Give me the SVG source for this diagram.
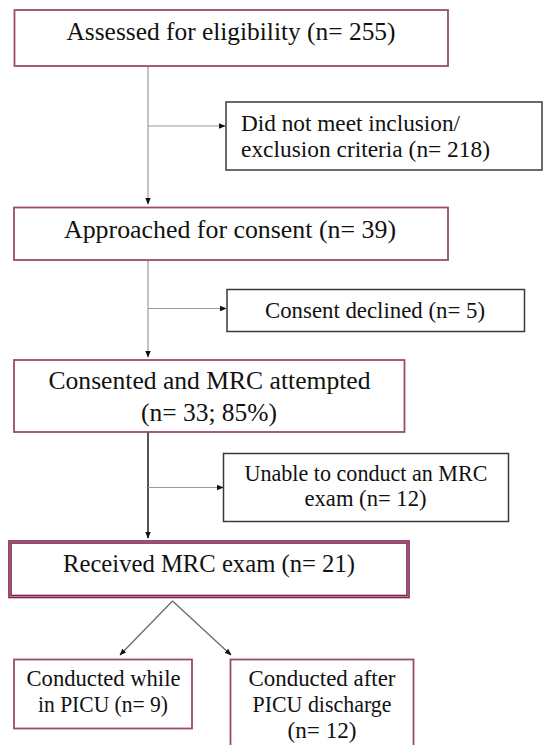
<svg xmlns="http://www.w3.org/2000/svg" width="543" height="745" viewBox="0 0 543 745">
  <style>
    .main { fill: #ffffff; stroke: #9c4a6f; stroke-width: 1.8; }
    .side { fill: #ffffff; stroke: #3a3a3a; stroke-width: 1.5; }
    .t { font-family: "Liberation Serif", "Times New Roman", serif; font-size: 25px; fill: #111111; }
    .s { font-family: "Liberation Serif", "Times New Roman", serif; font-size: 23.5px; fill: #111111; }
    .c { text-anchor: middle; }
    .ln { fill: none; stroke: #9a9a9a; stroke-width: 1.2; }
    .dk { fill: none; stroke: #2a2a2a; stroke-width: 1.6; }
    .dg { fill: none; stroke: #6a6a6a; stroke-width: 1.3; }
  </style>
  <defs>
    <marker id="ah" markerUnits="userSpaceOnUse" markerWidth="7" markerHeight="7" viewBox="0 0 10 10" refX="9" refY="5" orient="auto">
      <path d="M0,1 L10,5 L0,9 z" fill="#111111"/>
    </marker>
  </defs>
  <rect width="543" height="745" fill="#ffffff"/>

  <g id="connectors">
    <line class="ln" x1="148" y1="66" x2="148" y2="204" marker-end="url(#ah)"/>
    <line class="ln" x1="148" y1="126" x2="225" y2="126" marker-end="url(#ah)"/>
    <line class="ln" x1="148" y1="260" x2="148" y2="357" marker-end="url(#ah)"/>
    <line class="ln" x1="148" y1="308.5" x2="226" y2="308.5" marker-end="url(#ah)"/>
    <line class="dk" x1="148" y1="432" x2="148" y2="538" marker-end="url(#ah)"/>
    <line class="ln" x1="148" y1="487.5" x2="223" y2="487.5" marker-end="url(#ah)"/>
    <line class="dg" x1="172.5" y1="601" x2="120" y2="655" marker-end="url(#ah)"/>
    <line class="dg" x1="172.5" y1="601" x2="231" y2="655" marker-end="url(#ah)"/>
  </g>

  <g id="n1">
    <rect class="main" x="14.5" y="10" width="433.5" height="56"/>
    <text class="t c" x="231" y="40" textLength="329" lengthAdjust="spacingAndGlyphs">Assessed for eligibility (n= 255)</text>
  </g>
  <g id="n2">
    <rect class="side" x="226" y="102" width="316" height="68"/>
    <text class="s" x="241" y="131" textLength="219" lengthAdjust="spacingAndGlyphs">Did not meet inclusion/</text>
    <text class="s" x="241" y="156.5" textLength="249" lengthAdjust="spacingAndGlyphs">exclusion criteria (n= 218)</text>
  </g>
  <g id="n3">
    <rect class="main" x="14" y="207.5" width="434" height="52.5"/>
    <text class="t c" x="230" y="237.5" textLength="332" lengthAdjust="spacingAndGlyphs">Approached for consent (n= 39)</text>
  </g>
  <g id="n4">
    <rect class="side" x="227" y="289.5" width="297.5" height="42"/>
    <text class="s c" x="375" y="317.5" textLength="220" lengthAdjust="spacingAndGlyphs">Consent declined (n= 5)</text>
  </g>
  <g id="n5">
    <rect class="main" x="14" y="360" width="390.5" height="72"/>
    <text class="t c" x="209.5" y="388.5" textLength="322" lengthAdjust="spacingAndGlyphs">Consented and MRC attempted</text>
    <text class="t c" x="209" y="420.5" textLength="136" lengthAdjust="spacingAndGlyphs">(n= 33; 85%)</text>
  </g>
  <g id="n6">
    <rect class="side" x="223.5" y="453.5" width="285" height="68"/>
    <text class="s c" x="366" y="481" textLength="243" lengthAdjust="spacingAndGlyphs">Unable to conduct an MRC</text>
    <text class="s c" x="365.5" y="506" textLength="122" lengthAdjust="spacingAndGlyphs">exam (n= 12)</text>
  </g>
  <g id="n7">
    <rect x="10" y="542" width="398" height="54.5" fill="#ffffff" stroke="#7b1f4b" stroke-width="3.6"/>
    <rect x="10" y="542" width="398" height="54.5" fill="none" stroke="#c98aa6" stroke-width="0.9"/>
    <text class="t c" x="209" y="571.5" textLength="292" lengthAdjust="spacingAndGlyphs">Received MRC exam (n= 21)</text>
  </g>
  <g id="n8">
    <rect class="main" x="14" y="659.5" width="178" height="69"/>
    <text class="s c" x="103.5" y="685.5" textLength="154" lengthAdjust="spacingAndGlyphs">Conducted while</text>
    <text class="s c" x="103" y="712" textLength="130" lengthAdjust="spacingAndGlyphs">in PICU (n= 9)</text>
  </g>
  <g id="n9">
    <rect class="main" x="230.5" y="659.5" width="183" height="95"/>
    <text class="s c" x="322" y="685.5" textLength="147" lengthAdjust="spacingAndGlyphs">Conducted after</text>
    <text class="s c" x="322" y="712" textLength="139" lengthAdjust="spacingAndGlyphs">PICU discharge</text>
    <text class="s c" x="322" y="737.5" textLength="69" lengthAdjust="spacingAndGlyphs">(n= 12)</text>
  </g>
</svg>
